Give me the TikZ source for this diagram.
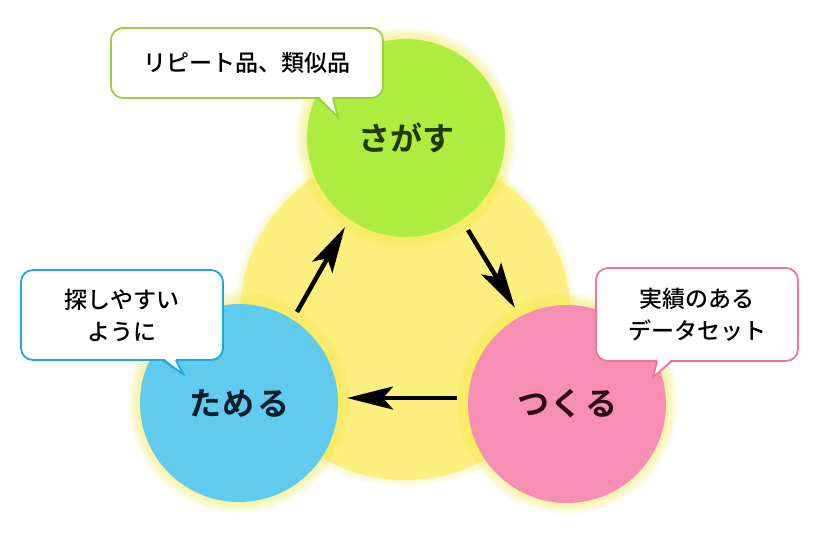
\documentclass[tikz,border=0pt]{standalone}
\usepackage{fontspec}
\newfontfamily\jp{Noto Sans CJK JP Medium}
\newfontfamily\jpb{Noto Sans CJK JP Bold}
\usetikzlibrary{arrows.meta}
\definecolor{cyel}{HTML}{FDF07E}
\definecolor{cglow}{HTML}{F8EC48}
\definecolor{cgreen}{HTML}{AEEC40}
\definecolor{cblue}{HTML}{60CBEE}
\definecolor{cpink}{HTML}{F78FB4}
\definecolor{bgreen}{HTML}{9CCF3C}
\definecolor{bblue}{HTML}{1CA8DE}
\definecolor{bpink}{HTML}{EE739E}
\definecolor{tgreen}{HTML}{1E3A0C}
\definecolor{tblue}{HTML}{0C1E2A}
\definecolor{tpink}{HTML}{2A0C16}
\tikzset{
  bigc/.style={circle, minimum size=198pt, inner sep=0pt, font=\jpb\fontsize{32}{36}\selectfont},
  callout/.style={draw, line width=1.8pt, fill=white, rounded corners=12pt, inner sep=0pt, align=center, font=\jp\fontsize{23}{32}\selectfont},
  flow/.style={line width=4.5pt, -{Stealth[length=46pt,width=23pt,inset=10pt]}},
}
\newcommand{\glowring}[4]{% center, radius, steps, opacity
  \foreach \i in {1,...,#3}{\fill[cglow, opacity=#4] #1 circle ({#2+\i});}}
\begin{document}
\begin{tikzpicture}[x=1pt,y=-1pt]
\useasboundingbox (0,0) rectangle (819,541);
\fill[white] (0,0) rectangle (819,541);
% big yellow circle
\glowring{(405,315)}{165}{7}{0.04}
\fill[cyel] (405,315) circle (165);
% glows of circles
\glowring{(406,138)}{99}{12}{0.05}
\glowring{(239,402)}{99}{12}{0.05}
\glowring{(567,403)}{99}{12}{0.05}
\node[bigc, fill=cgreen, text=tgreen] (sagasu) at (406,138) {さがす};
\node[bigc, fill=cblue, text=tblue] (tameru) at (239,403) {た\kern2ptめ\kern2ptる};
\node[bigc, fill=cpink, text=tpink] (tsukuru) at (567,404) {つ\kern2ptく\kern2ptる};
% arrows
\coordinate (a1s) at (297,312); \coordinate (a1e) at (345,227);
\coordinate (a2s) at (468,230); \coordinate (a2e) at (515,308);
\coordinate (a3s) at (457,398); \coordinate (a3e) at (347,398);
\draw[flow] (a1s) -- (a1e);
\draw[flow] (a2s) -- (a2e);
\draw[flow] (a3s) -- (a3e);
% callouts
\node[callout, draw=bgreen, minimum width=272pt, minimum height=70pt] (cg) at (247,63) {リピート品、類似品};
\fill[white] (318.5,96) -- (332.5,96) -- (338,117) -- cycle;
\draw[bgreen, line width=1.8pt, line join=miter] (318,98) -- (338,117) -- (333,98);
\node[callout, draw=bblue, minimum width=202pt, minimum height=90pt] (cb) at (122,315) {探しやすい\\ように};
\fill[white] (163.5,358) -- (175.5,358) -- (183,374) -- cycle;
\draw[bblue, line width=1.8pt, line join=miter] (163,360) -- (183,374) -- (176,360);
\node[callout, draw=bpink, minimum width=202pt, minimum height=93pt] (cp) at (697,314.5) {実績のある\\データセット};
\fill[white] (657.5,359) -- (671.5,359) -- (653,377) -- cycle;
\draw[bpink, line width=1.8pt, line join=miter] (657,361) -- (653,377) -- (672,361);
\end{tikzpicture}
\end{document}
